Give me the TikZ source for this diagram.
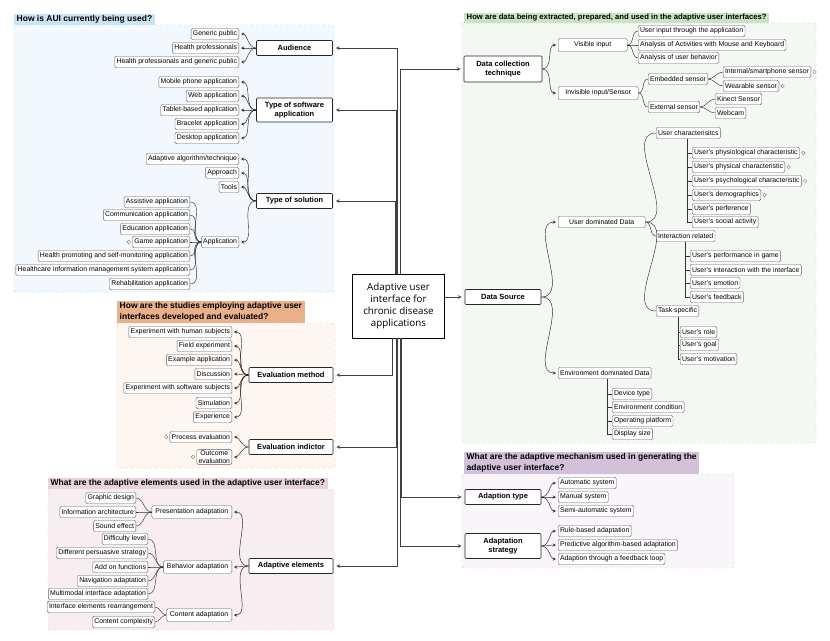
\documentclass[tikz,border=0pt]{standalone}
\usepackage{fontspec}
\setmainfont{Liberation Sans}
\newfontfamily\rootfont{Open Sans}

\definecolor{bluebg}{HTML}{F2F8FD}
\definecolor{blueline}{HTML}{A9D3EA}
\definecolor{bluetitle}{HTML}{CBE3F2}
\definecolor{orgbg}{HTML}{FDF6F1}
\definecolor{orgline}{HTML}{F0B88C}
\definecolor{orgtitle}{HTML}{E8B18C}
\definecolor{pinkbg}{HTML}{F8EEF1}
\definecolor{pinkline}{HTML}{E3C5CC}
\definecolor{pinktitle}{HTML}{E8D3D7}
\definecolor{grnbg}{HTML}{F3F8F2}
\definecolor{grnline}{HTML}{B9DCB1}
\definecolor{grntitle}{HTML}{C9E4C3}
\definecolor{purbg}{HTML}{FAF4FB}
\definecolor{purline}{HTML}{DCC6E0}
\definecolor{purtitle}{HTML}{D2C1D8}

\newcommand{\leaffont}{\fontsize{6.9}{7.4}\selectfont}
\newcommand{\branchfont}{\fontsize{7.5}{9}\selectfont\bfseries}
\newcommand{\titlefont}{\fontsize{8.5}{11}\selectfont\bfseries}

\begin{document}
\begin{tikzpicture}[x=1pt, y=-1pt, >=stealth,
    leaf/.style={draw=gray!75!black, fill=white, rounded corners=1.5pt, font=\leaffont,
        inner xsep=1.8pt, inner ysep=1pt, minimum height=11.5pt, line width=0.4pt},
    leafL/.style={leaf, anchor=east},
    leafR/.style={leaf, anchor=west},
    mid/.style={leaf, inner xsep=3.5pt, minimum height=12.5pt},
    branch/.style={draw=black!85, fill=white, rounded corners=1pt, font=\branchfont,
        minimum width=76pt, minimum height=15pt, align=center, line width=0.6pt},
    root/.style={draw=black, fill=white, font=\rootfont\fontsize{9.8}{12}\selectfont,
        minimum width=92pt, minimum height=64pt, align=center, line width=0.8pt},
    panel/.style={dashed, rounded corners=2pt, line width=0.4pt},
    title/.style={anchor=south west, font=\titlefont,
        inner xsep=2.5pt, inner ysep=1.5pt, align=left},
    icon/.style={circle, draw=gray, fill=white, inner sep=0pt, minimum size=3.6pt, line width=0.4pt},
    trunk/.style={->, black!75, line width=0.7pt, shorten >=3pt},
    link/.style={->, black!85, line width=0.45pt, shorten >=2pt},
    twig/.style={black!80, line width=0.45pt},
  ]
  \useasboundingbox (0,0) rectangle (830,640);

  % ---- panels and titles
  \draw[panel, draw=blueline, fill=bluebg] (14,25) rectangle (334,292);
  \node[title, fill=bluetitle] (t1) at (14,25) {How is AUI currently being used?};
  \draw[panel, draw=orgline, fill=orgbg] (117,323) rectangle (335,468);
  \node[title, fill=orgtitle] (t2) at (117,323) {How are the studies employing adaptive user\\interfaces developed and evaluated?};
  \draw[panel, draw=pinkline, fill=pinkbg] (48,489) rectangle (334,630);
  \node[title, fill=pinktitle] (t3) at (48,489) {What are the adaptive elements used in the adaptive user interface?};
  \draw[panel, draw=grnline, fill=grnbg] (462,23) rectangle (816,443);
  \node[title, fill=grntitle, font=\fontsize{7.7}{10}\selectfont\bfseries] (t4) at (464,23) {How are data being extracted, prepared, and used in the adaptive user interfaces?};
  \draw[panel, draw=purline, fill=purbg] (462,474) rectangle (734,568);
  \node[title, fill=purtitle] (t5) at (464,474) {What are the adaptive mechanism used in generating the\\adaptive user interface?};

  % ---- centre
  \node[root] (root) at (398.5,306) {Adaptive user\\interface for\\chronic disease\\applications};

  % ---- how is AUI used
  \node[branch] (aud) at (294.5,48) {Audience};
  \node[branch, minimum height=24pt] (sw) at (294.5,110) {Type of software\\application};
  \node[branch] (sol) at (294.5,201) {Type of solution};

  \node[leafL] (gp) at (239,34) {Generic public};
  \node[leafL] (hp) at (239,48) {Health professionals};
  \node[leafL] (hpg) at (239,62) {Health professionals and generic public};

  \node[leafL] (mob) at (239,82) {Mobile phone application};
  \node[leafL] (web) at (239,96) {Web application};
  \node[leafL] (tab) at (239,110) {Tablet-based application};
  \node[leafL] (brc) at (239,124) {Bracelet application};
  \node[leafL] (dsk) at (239,138) {Desktop application};

  \node[leafL] (alg) at (239,159) {Adaptive algorithm/technique};
  \node[leafL] (apr) at (239,173) {Approach};
  \node[leafL] (tls) at (239,187) {Tools};
  \node[leafL] (app) at (239,242) {Application};

  \node[leafL] (ast) at (190,202) {Assistive application};
  \node[leafL] (com) at (190,215) {Communication application};
  \node[leafL] (edu) at (190,229) {Education application};
  \node[leafL] (gam) at (190,242) {Game application};
  \node[leafL] (hps) at (190,256) {Health promoting and self-monitoring application};
  \node[leafL] (him) at (190,270) {Healthcare information management system application};
  \node[leafL] (reh) at (190,284) {Rehabilitation application};
  \node[icon] (igam) at ([xshift=-3.5pt]gam.west) {};

  \foreach \c in {gp,hp,hpg} \draw[link] (aud.west) to[out=180,in=0] (\c.east);
  \foreach \c in {mob,web,tab,brc,dsk} \draw[link] (sw.west) to[out=180,in=0] (\c.east);
  \foreach \c in {alg,apr,tls,app} \draw[link] (sol.west) to[out=180,in=0] (\c.east);
  \foreach \c in {ast,com,edu,gam,hps,him,reh} \draw[twig] (app.west) to[out=180,in=0] (\c.east);

  % ---- evaluation
  \node[branch, minimum width=84pt] (evm) at (291,375) {Evaluation method};
  \node[branch, minimum width=84pt] (evi) at (291,447) {Evaluation indictor};

  \node[leafL] (ehs) at (232,332) {Experiment with human subjects};
  \node[leafL] (fex) at (232,346) {Field experiment};
  \node[leafL] (exa) at (232,360) {Example application\hspace{4pt}};
  \node[leafL] (dis) at (232,374) {Discussion};
  \node[leafL] (ess) at (232,388) {Experiment with software subjects};
  \node[leafL] (sim) at (232,403) {Simulation};
  \node[leafL] (exp) at (232,417) {Experience};
  \node[leafL] (pev) at (232,437) {Process evaluation};
  \node[leafL, align=center, font=\fontsize{6.9}{8}\selectfont] (oev) at (232,457) {Outcome\\evaluation};
  \node[icon] (ipev) at ([xshift=-3.5pt]pev.west) {};
  \node[icon] (ioev) at ([xshift=-3.5pt]oev.west) {};

  \foreach \c in {ehs,fex,exa,dis,ess,sim,exp} \draw[link] (evm.west) to[out=180,in=0] (\c.east);
  \foreach \c in {pev,oev} \draw[link] (evi.west) to[out=180,in=0] (\c.east);

  % ---- adaptive elements
  \node[branch, minimum width=84pt] (ael) at (291,566) {Adaptive elements};
  \node[mid, anchor=east] (pres) at (232,512) {Presentation adaptation};
  \node[mid, anchor=east] (beh) at (232,567) {Behavior adaptation};
  \node[mid, anchor=east] (cont) at (232,615) {Content adaptation};

  \node[leafL] (gd) at (136,498) {Graphic design};
  \node[leafL] (ia) at (136,512) {Information architecture};
  \node[leafL] (se) at (136,526) {Sound effect};

  \node[leafL] (dl) at (148,539) {Difficulty level};
  \node[leafL] (dps) at (148,553) {Different persuasive strategy};
  \node[leafL] (aof) at (148,567) {Add on functions};
  \node[leafL] (nav) at (148,581) {Navigation adaptation};
  \node[leafL] (mia) at (148,594) {Multimodal interface adaptation};

  \node[leafL] (ier) at (155,607) {Interface elements rearrangement};
  \node[leafL] (cc) at (155,622) {Content complexity};

  \foreach \c in {pres,beh,cont} \draw[link] (ael.west) to[out=180,in=0] (\c.east);
  \foreach \c in {gd,ia,se} \draw[twig] (pres.west) to[out=180,in=0] (\c.east);
  \foreach \c in {dl,dps,aof,nav,mia} \draw[twig] (beh.west) to[out=180,in=0] (\c.east);
  \foreach \c in {ier,cc} \draw[twig] (cont.west) to[out=180,in=0] (\c.east);

  % ---- data
  \node[branch, minimum width=78pt, minimum height=26pt] (dct) at (503,69) {Data collection\\technique};
  \node[leafR, minimum width=69pt, minimum height=13pt] (vis) at (558,45) {Visible input};
  \node[leafR, minimum width=80pt, minimum height=13pt] (inv) at (558,93) {Invisible input/Sensor};

  \node[leafR] (uia) at (638,31) {User input through the application\hspace{3pt}};
  \node[leafR] (amk) at (638,45) {Analysis of Activities with Mouse and Keyboard};
  \node[leafR] (aub) at (638,58) {Analysis of user behavior\hspace{6pt}};

  \node[leafR] (emb) at (648,79) {Embedded sensor\hspace{6pt}};
  \node[leafR] (ext) at (648,107) {External sensor\hspace{6pt}};
  \node[leafR] (iss) at (723,72) {Internal/smartphone sensor};
  \node[leafR] (wes) at (723,86) {Wearable sensor};
  \node[leafR] (kin) at (715,99) {Kinect Sensor};
  \node[leafR] (wcm) at (715,113) {Webcam};
  \node[icon] (iiss) at ([xshift=3.5pt]iss.east) {};
  \node[icon] (iwes) at ([xshift=3.5pt]wes.east) {};

  \foreach \c in {vis,inv} \draw[link] (dct.east) to[out=0,in=180] (\c.west);
  \foreach \c in {uia,amk,aub} \draw[twig] (vis.east) to[out=0,in=180] (\c.west);
  \foreach \c in {emb,ext} \draw[twig] (inv.east) to[out=0,in=180] (\c.west);
  \foreach \c in {iss,wes} \draw[twig] (emb.east) to[out=0,in=180] (\c.west);
  \foreach \c in {kin,wcm} \draw[twig] (ext.east) to[out=0,in=180] (\c.west);

  \node[branch] (dsrc) at (503,297) {Data Source};
  \node[leafR, minimum width=87pt] (udd) at (558,222) {User dominated Data};
  \node[leafR] (env) at (558,373) {Environment dominated Data};

  \node[leafR] (uc) at (656,133) {User characterisitcs};
  \node[leafR] (ir) at (656,236) {Interaction related};
  \node[leafR] (ts) at (656,311) {Task specific};

  \node[leafR] (phy) at (692,153) {User's physiological characteristic};
  \node[leafR] (phc) at (692,167) {User's physical characteristic\hspace{8pt}};
  \node[leafR] (psy) at (692,181) {User's psychological characteristic};
  \node[leafR] (dem) at (692,195) {User's demographics};
  \node[leafR] (prf) at (692,209) {User's perference};
  \node[leafR] (soc) at (692,222) {User's social activity};
  \node[icon] (iphy) at ([xshift=3.5pt]phy.east) {};
  \node[icon] (iphc) at ([xshift=3.5pt]phc.east) {};
  \node[icon] (ipsy) at ([xshift=3.5pt]psy.east) {};
  \node[icon] (idem) at ([xshift=3.5pt]dem.east) {};

  \node[leafR] (pig) at (690,256) {User's performance in game};
  \node[leafR] (uwi) at (690,270) {User's interaction with the interface};
  \node[leafR] (emo) at (690,283) {User's emotion};
  \node[leafR] (fbk) at (690,297) {User's feedback};

  \node[leafR] (rol) at (680,332) {User's role};
  \node[leafR] (gol) at (680,345) {User's goal};
  \node[leafR] (mot) at (680,359) {User's motivation};

  \node[leafR] (dty) at (612,394) {Device type};
  \node[leafR] (eco) at (612,407) {Environment condition};
  \node[leafR] (opl) at (612,421) {Operating platform};
  \node[leafR] (dsz) at (612,434) {Display size};

  \foreach \c in {udd,env} \draw[link] (dsrc.east) to[out=0,in=180] (\c.west);
  \foreach \c in {uc,ir,ts} \draw[twig] (udd.east) to[out=0,in=180] (\c.west);
  \foreach \c in {phy,phc,psy,dem,prf,soc} \draw[twig] ([xshift=31pt]uc.south west) |- (\c.west);
  \foreach \c in {pig,uwi,emo,fbk} \draw[twig] ([xshift=29pt]ir.south west) |- (\c.west);
  \foreach \c in {rol,gol,mot} \draw[twig] ([xshift=22pt]ts.south west) |- (\c.west);
  \foreach \c in {dty,eco,opl,dsz} \draw[twig] ([xshift=49pt]env.south west) |- (\c.west);

  % ---- adaptive mechanism
  \node[branch] (aty) at (503,497) {Adaption type};
  \node[branch, minimum height=25pt] (ast2) at (503,546) {Adaptation\\strategy};

  \node[leafR] (aut) at (558,483) {Automatic system};
  \node[leafR] (man) at (558,497) {Manual system};
  \node[leafR] (sem) at (558,511) {Semi-automatic system};
  \node[leafR] (rba) at (558,531) {Rule-based adaptation};
  \node[leafR] (pab) at (558,545) {Predictive algorithm-based adaptation};
  \node[leafR] (afl) at (558,559) {Adaption through a feedback loop};

  \foreach \c in {aut,man,sem} \draw[link] (aty.east) to[out=0,in=180] (\c.west);
  \foreach \c in {rba,pab,afl} \draw[link] (ast2.east) to[out=0,in=180] (\c.west);

  % ---- trunk from the centre
  \draw[trunk] ([xshift=-1.5pt]root.north) |- (aud.east);
  \draw[trunk] ([xshift=-2pt]root.north) |- (sw.east);
  \draw[trunk] ([xshift=-3.5pt]root.north) |- (sol.east);
  \draw[trunk] ([xshift=2.2pt]root.north) |- (dct.west);
  \draw[trunk] (root.east |- dsrc) -- (dsrc.west);
  \draw[trunk] ([xshift=-6pt]root.south) |- (evm.east);
  \draw[trunk] ([xshift=-2.5pt]root.south) |- (evi.east);
  \draw[trunk] ([xshift=-1pt]root.south) |- (ael.east);
  \draw[trunk] ([xshift=2.5pt]root.south) |- (aty.west);
  \draw[trunk] ([xshift=2pt]root.south) |- (ast2.west);
\end{tikzpicture}
\end{document}
